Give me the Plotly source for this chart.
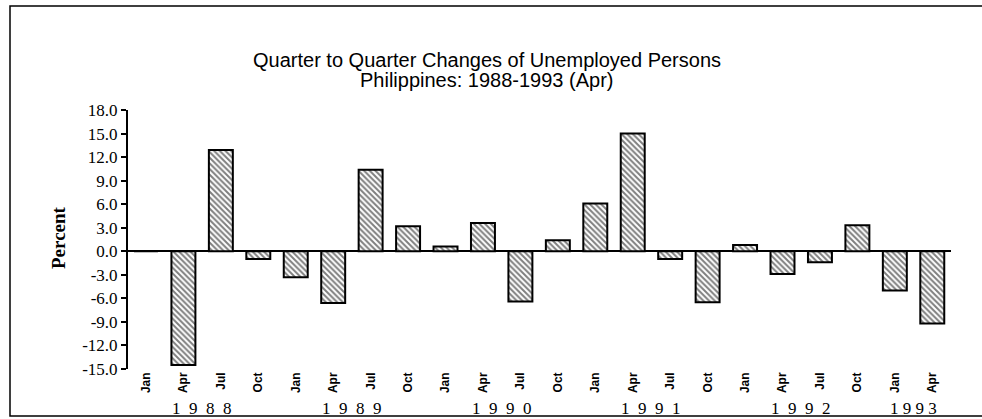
import plotly.graph_objects as go

quarters = ["Jan", "Apr", "Jul", "Oct", "Jan", "Apr", "Jul", "Oct", "Jan", "Apr", "Jul", "Oct",
            "Jan", "Apr", "Jul", "Oct", "Jan", "Apr", "Jul", "Oct", "Jan", "Apr"]
values = [0.0, -14.5, 12.9, -1.0, -3.3, -6.6, 10.4, 3.2, 0.6, 3.6, -6.4, 1.4,
          6.1, 15.0, -1.0, -6.5, 0.8, -2.9, -1.4, 3.3, -5.0, -9.2]
years = ["1988", "1989", "1990", "1991", "1992", "1993"]
year_pos = [1.5, 5.5, 9.5, 13.5, 17.5, 20.5]
ytick_vals = [18, 15, 12, 9, 6, 3, 0, -3, -6, -9, -12, -15]
ytick_text = ["18.0", "15.0", "12.0", "9.0", "6.0", "3.0", "0.0", "-3.0", "-6.0", "-9.0", "-12.0", "-15.0"]

W, H = 982, 419
L, R, T, B = 128, 31, 110, 50
pw, ph = W - L - R, H - T - B

def px_x(x):
    return (x - L) / pw

def px_y(y):
    return (H - B - y) / ph

idx = list(range(len(values)))
fig = go.Figure()
fig.add_trace(go.Bar(
    x=idx, y=values, width=0.64,
    marker=dict(color="white",
                line=dict(color="black", width=2),
                pattern=dict(shape="\\", fgcolor="black", bgcolor="white", size=4, solidity=0.5)),
    showlegend=False, hoverinfo="skip",
))

annotations = []
for yr, pos in zip(years, year_pos):
    sep = "\u00a0\u00a0" if yr != "1993" else "\u00a0"
    annotations.append(dict(
        x=pos, y=0, xref="x", yref="paper", yshift=-39, yanchor="middle", xanchor="center",
        text=sep.join(list(yr)), showarrow=False,
        font=dict(family="Liberation Serif", size=17, color="black"),
    ))
annotations.append(dict(
    x=px_x(487), y=px_y(60), xref="paper", yref="paper", xanchor="center", yanchor="middle",
    text="Quarter to Quarter Changes of Unemployed Persons", showarrow=False,
    font=dict(family="Liberation Sans", size=20, color="black"),
))
annotations.append(dict(
    x=px_x(487), y=px_y(80), xref="paper", yref="paper", xanchor="center", yanchor="middle",
    text="Philippines: 1988-1993 (Apr)", showarrow=False,
    font=dict(family="Liberation Sans", size=20, color="black"),
))
annotations.append(dict(
    x=px_x(58), y=px_y(238), xref="paper", yref="paper", xanchor="center", yanchor="middle",
    text="<b>Percent</b>", showarrow=False, textangle=-90,
    font=dict(family="Liberation Serif", size=19, color="black"),
))

fig.update_layout(
    width=W, height=H,
    margin=dict(l=L, r=R, t=T, b=B, pad=0),
    paper_bgcolor="white", plot_bgcolor="white",
    font=dict(family="Liberation Serif", color="black"),
    annotations=annotations,
    shapes=[dict(type="rect", xref="paper", yref="paper",
                 x0=px_x(10), x1=px_x(990), y0=px_y(416), y1=px_y(6),
                 line=dict(color="black", width=1.5), layer="below")],
)
fig.update_xaxes(
    range=[-0.48, 21.5], tickmode="array", tickvals=idx, ticktext=[f"<b>{q}</b>" for q in quarters],
    tickangle=-90, tickfont=dict(family="Liberation Sans", size=12, color="black"),
    showline=False, showgrid=False, zeroline=False, ticks="",
)
fig.update_yaxes(
    range=[-15, 18], tickmode="array", tickvals=ytick_vals, ticktext=ytick_text,
    tickfont=dict(family="Liberation Serif", size=17, color="black"),
    showline=True, linecolor="black", linewidth=2, ticks="outside", ticklen=5, tickwidth=1.5,
    tickcolor="black", showgrid=False, zeroline=True, zerolinecolor="black", zerolinewidth=1.5,
)

fig.write_html("out.html", config={"displayModeBar": False},
               post_script="document.body.style.margin='0';document.body.style.overflow='hidden';")
